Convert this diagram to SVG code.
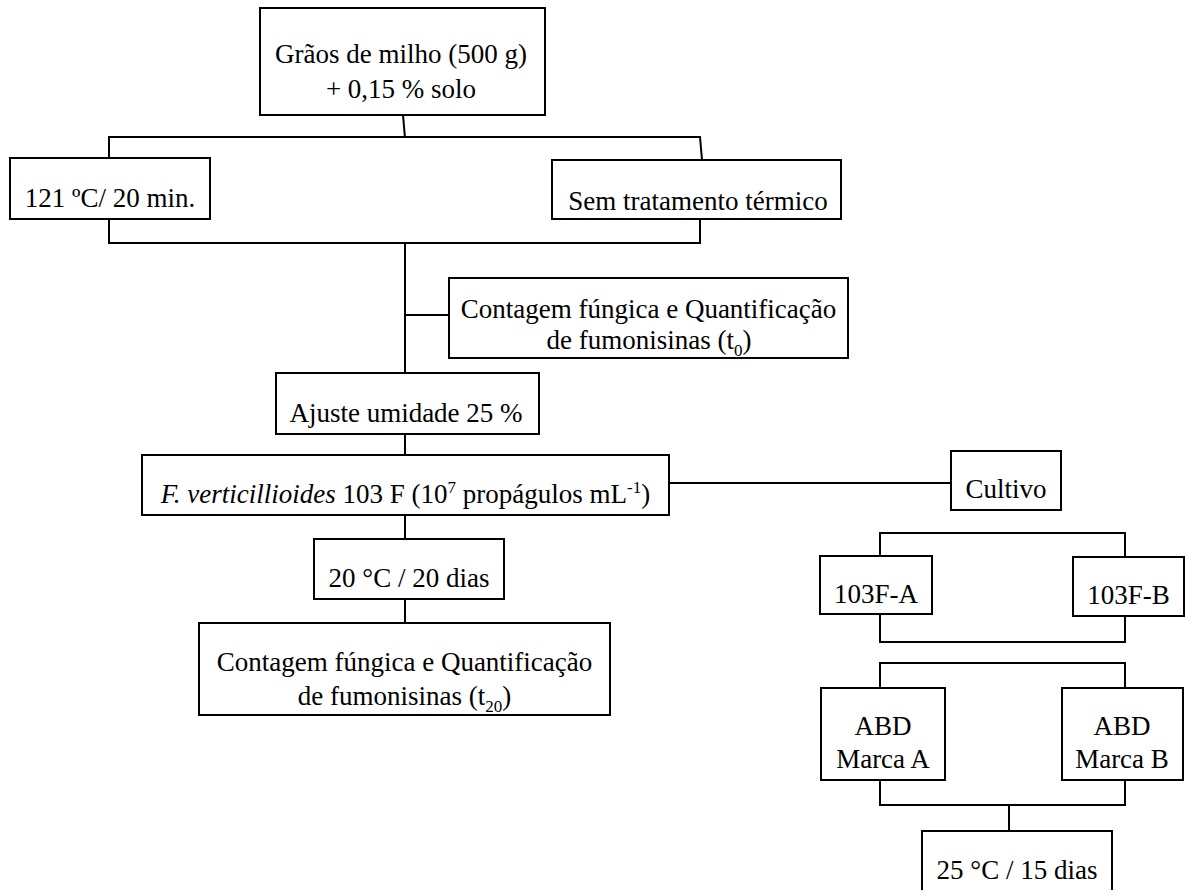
<svg xmlns="http://www.w3.org/2000/svg" width="1185" height="890" viewBox="0 0 1185 890" font-family="'Liberation Serif', Tinos, 'Times New Roman', Times, 'DejaVu Serif', serif">
  <style>
    .box { fill: #ffffff; stroke: #000000; stroke-width: 2; }
    .wire { fill: none; stroke: #000000; stroke-width: 2; }
    text { font-family: 'Liberation Serif', Tinos, 'Times New Roman', Times, 'DejaVu Serif', serif; font-size: 27px; fill: #000000; text-anchor: middle; }
    .it { font-style: italic; }
    .sm { font-size: 17px; }
  </style>
  <rect width="1185" height="890" fill="#ffffff"/>

  <!-- connectors -->
  <g id="connectors" class="wire">
    <path d="M403,115 L405,138"/>
    <path d="M109,158 V137 H700 L702,160"/>
    <path d="M109,219 V243 H700 V217"/>
    <path d="M405,243 V373"/>
    <path d="M405,315 H449"/>
    <path d="M405,434 V455"/>
    <path d="M405,515 V539"/>
    <path d="M405,599 V623"/>
    <path d="M669,483 H951"/>
    <path d="M880,556 V533 H1125 V557"/>
    <path d="M880,614 V642 H1125 V616"/>
    <path d="M880,688 V663 H1125 V688"/>
    <path d="M880,780 V805 H1125 V780"/>
    <path d="M1009,805 V831"/>
  </g>

  <g id="graos">
    <rect class="box" x="260" y="8" width="285" height="107"/>
    <text x="401" y="63">Grãos de milho (500 g)</text>
    <text x="401" y="98">+ 0,15 % solo</text>
  </g>

  <g id="autoclave">
    <rect class="box" x="10" y="158" width="200" height="61"/>
    <text x="110" y="207">121 ºC/ 20 min.</text>
  </g>

  <g id="sem-tratamento">
    <rect class="box" x="552" y="160" width="289" height="59"/>
    <text x="698" y="210">Sem tratamento térmico</text>
  </g>

  <g id="contagem-t0">
    <rect class="box" x="449" y="278" width="399" height="80"/>
    <text x="648.5" y="318">Contagem fúngica e Quantificação</text>
    <text x="649" y="349">de fumonisinas (t<tspan class="sm" dy="7">0</tspan><tspan dy="-7">)</tspan></text>
  </g>

  <g id="ajuste">
    <rect class="box" x="276" y="373" width="263" height="61"/>
    <text x="406" y="422">Ajuste umidade 25 %</text>
  </g>

  <g id="inoculo">
    <rect class="box" x="142" y="455" width="527" height="60"/>
    <text x="405.5" y="503"><tspan class="it">F. verticillioides</tspan> 103 F (10<tspan class="sm" dy="-10">7</tspan><tspan dy="10"> propágulos mL</tspan><tspan class="sm" dy="-10">-1</tspan><tspan dy="10">)</tspan></text>
  </g>

  <g id="incubacao-20">
    <rect class="box" x="314" y="539" width="190" height="60"/>
    <text x="409" y="587">20 °C / 20 dias</text>
  </g>

  <g id="contagem-t20">
    <rect class="box" x="199" y="623" width="411" height="92"/>
    <text x="404.5" y="671">Contagem fúngica e Quantificação</text>
    <text x="404.5" y="705">de fumonisinas (t<tspan class="sm" dy="7">20</tspan><tspan dy="-7">)</tspan></text>
  </g>

  <g id="cultivo">
    <rect class="box" x="951" y="451" width="110" height="59"/>
    <text x="1006" y="498">Cultivo</text>
  </g>

  <g id="cepa-a">
    <rect class="box" x="820" y="556" width="112" height="58"/>
    <text x="876" y="603">103F-A</text>
  </g>

  <g id="cepa-b">
    <rect class="box" x="1073" y="557" width="111" height="59"/>
    <text x="1128.5" y="604">103F-B</text>
  </g>

  <g id="abd-a">
    <rect class="box" x="821" y="688" width="124" height="92"/>
    <text x="883" y="735">ABD</text>
    <text x="883" y="768">Marca A</text>
  </g>

  <g id="abd-b">
    <rect class="box" x="1062" y="688" width="121" height="92"/>
    <text x="1122" y="735">ABD</text>
    <text x="1122" y="768">Marca B</text>
  </g>

  <g id="incubacao-25">
    <rect class="box" x="922" y="831" width="190" height="70"/>
    <text x="1017" y="879">25 °C / 15 dias</text>
  </g>
</svg>
